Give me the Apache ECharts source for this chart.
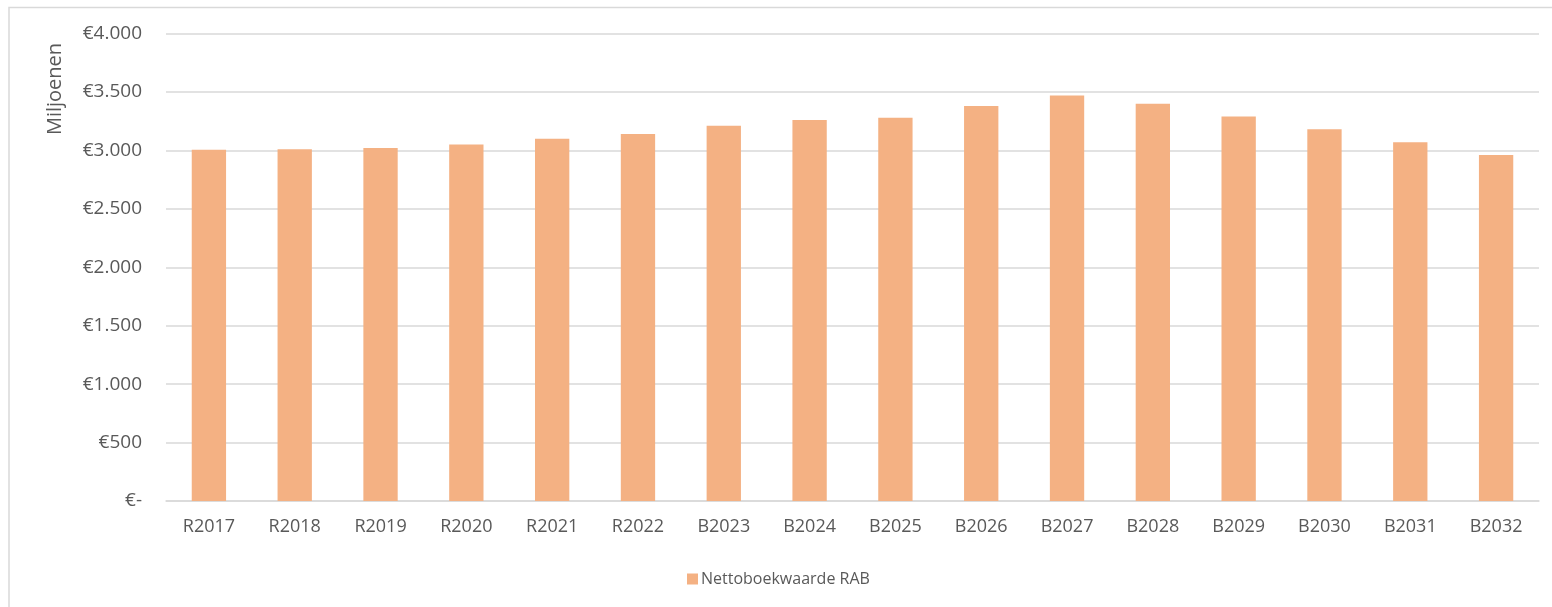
<!DOCTYPE html>
<html>
<head>
<meta charset="utf-8">
<script src="https://cdn.jsdelivr.net/npm/echarts@6/dist/echarts.min.js"></script>
<style>
  html, body { margin: 0; padding: 0; background: #fff; }
  #chart { width: 1552px; height: 607px; }
</style>
</head>
<body>
<div id="chart"></div>
<script>
// jaren (R = realisatie, B = begroting)
var categories = ['R2017', 'R2018', 'R2019', 'R2020', 'R2021', 'R2022', 'B2023', 'B2024',
  'B2025', 'B2026', 'B2027', 'B2028', 'B2029', 'B2030', 'B2031', 'B2032'];
// nettoboekwaarde RAB, miljoenen euro
var rabValues = [3005, 3010, 3020, 3050, 3100, 3140, 3210, 3260,
  3280, 3380, 3470, 3400, 3290, 3180, 3070, 2960];
var seriesName = 'Nettoboekwaarde RAB';

var font = '"Open Sans", "Noto Sans", sans-serif';
var grey = '#595959';

function euro(v) {
  if (v === 0) return '€-';
  return '€' + String(v).replace(/\B(?=(\d{3})+(?!\d))/g, '.');
}

var myChart = echarts.init(document.getElementById('chart'));

var option = {
  animation: false,
  backgroundColor: '#fff',
  textStyle: { fontFamily: font },
  grid: { left: 166, right: 13, top: 33.5, bottom: 106, containLabel: false },
  legend: {
    left: 682,
    top: 566,
    itemWidth: 11,
    itemHeight: 11,
    icon: 'rect',
    textStyle: { color: grey, fontSize: 16, fontFamily: font, padding: [0, 0, 0, -2] },
    data: [seriesName]
  },
  xAxis: {
    type: 'category',
    data: categories,
    axisLine: { lineStyle: { color: '#d9d9d9', width: 1.5 } },
    axisTick: { show: false },
    axisLabel: { color: grey, fontSize: 18, margin: 17, fontFamily: font }
  },
  yAxis: {
    type: 'value',
    min: 0,
    max: 4000,
    interval: 500,
    axisLine: { show: false },
    axisTick: { show: false },
    splitLine: { lineStyle: { color: '#d9d9d9', width: 1.5 } },
    axisLabel: {
      color: grey, fontSize: 19, margin: 24, fontFamily: font,
      formatter: euro
    }
  },
  series: [{
    name: seriesName,
    type: 'bar',
    data: rabValues,
    barWidth: '40%',
    itemStyle: { color: '#f4b183' }
  }],
  graphic: [
    {
      type: 'rect',
      shape: { x: 9, y: 7.5, width: 1700, height: 800 },
      style: { fill: 'none', stroke: '#d9d9d9', lineWidth: 1.5 },
      z: -1
    },
    {
      type: 'text',
      x: 55,
      y: 89,
      rotation: Math.PI / 2,
      style: {
        text: 'Miljoenen',
        fill: grey,
        font: '20px ' + font,
        textAlign: 'center',
        textVerticalAlign: 'middle'
      }
    }
  ]
};

myChart.setOption(option);
</script>
</body>
</html>
